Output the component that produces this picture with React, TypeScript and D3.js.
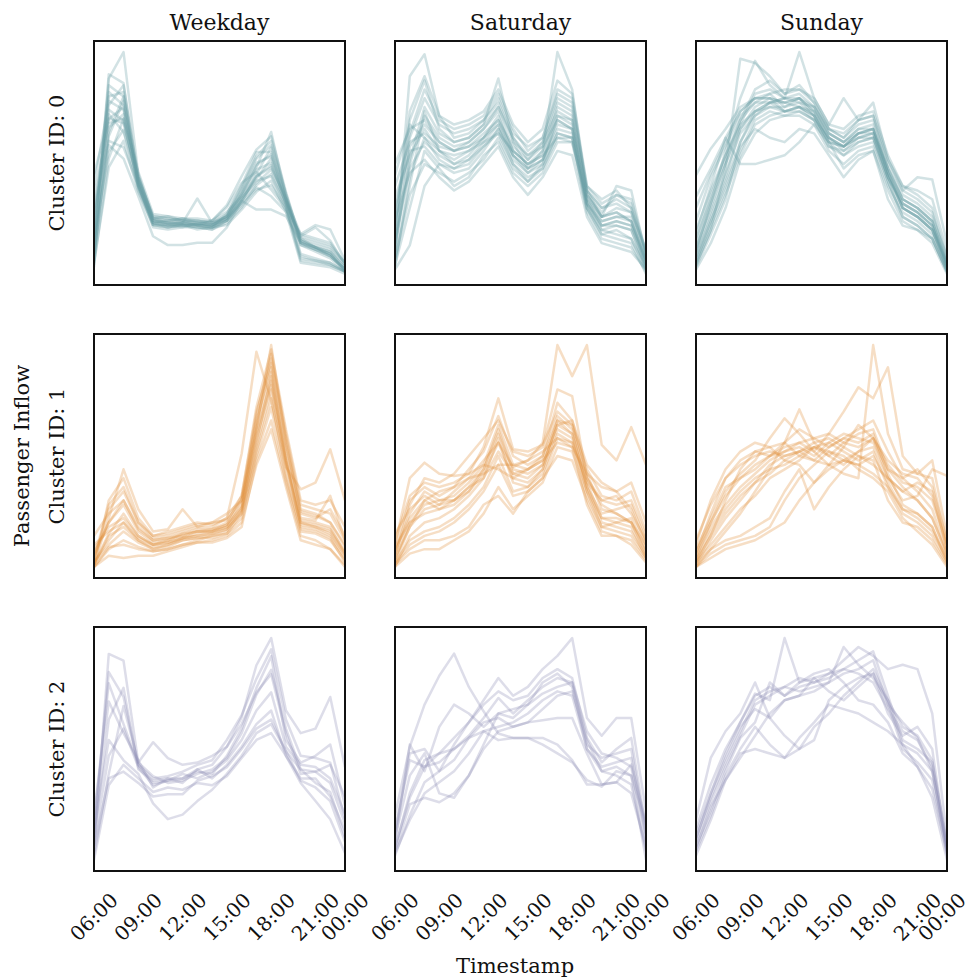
import React from 'react';
import * as d3 from 'd3';

const DAYS = ['Weekday', 'Saturday', 'Sunday'];
const CLUSTER_LABELS = ['Cluster ID: 0', 'Cluster ID: 1', 'Cluster ID: 2'];
const COLORS = ['#6a9fa6', '#e0913f', '#8f8db5'];
const TICK_POS = [0, 3, 6, 9, 12, 15, 17];
const TICK_LABELS = ['06:00', '09:00', '12:00', '15:00', '18:00', '21:00', '00:00'];
const Y_LABEL = 'Passenger Inflow';
const X_LABEL = 'Timestamp';

// Cluster 0 — hourly inflow (06:00 .. 23:00), normalised
const C0_WEEKDAY = [
  [3, 88, 100, 45, 25, 23, 24, 22, 22, 26, 36, 48, 64, 35, 13, 10, 7, 1],
  [10, 90, 86, 40, 23, 24, 25, 23, 22, 24, 32, 45, 57, 34, 14, 12, 9, 2],
  [18, 80, 82, 44, 26, 25, 24, 24, 23, 26, 38, 52, 58, 36, 16, 12, 10, 3],
  [25, 70, 75, 42, 24, 22, 23, 22, 21, 27, 40, 55, 55, 33, 15, 13, 11, 4],
  [8, 62, 78, 40, 22, 21, 22, 21, 20, 24, 34, 43, 52, 31, 8, 6, 5, 1],
  [35, 68, 70, 46, 27, 26, 25, 25, 24, 28, 35, 44, 48, 34, 18, 16, 14, 5],
  [15, 55, 65, 38, 21, 20, 21, 21, 20, 23, 30, 40, 45, 30, 6, 5, 4, 1],
  [5, 48, 60, 37, 22, 21, 22, 20, 21, 22, 29, 37, 42, 28, 5, 4, 3, 0],
  [40, 78, 74, 43, 25, 24, 23, 34, 23, 25, 33, 41, 47, 32, 17, 21, 15, 4],
  [20, 85, 80, 41, 24, 23, 22, 22, 24, 31, 44, 56, 62, 37, 15, 12, 8, 2],
  [12, 58, 52, 35, 17, 13, 13, 14, 14, 21, 33, 29, 29, 26, 14, 11, 8, 2],
  [28, 74, 69, 40, 23, 22, 21, 23, 22, 26, 37, 50, 53, 33, 16, 14, 12, 5],
  [6, 66, 72, 39, 22, 22, 23, 22, 21, 25, 35, 47, 50, 33, 13, 11, 9, 1],
  [22, 72, 64, 42, 25, 26, 24, 23, 24, 30, 41, 46, 38, 29, 18, 22, 20, 6],
  [14, 82, 76, 41, 23, 21, 22, 21, 21, 24, 31, 38, 40, 30, 7, 6, 4, 1],
  [30, 60, 57, 40, 24, 23, 23, 22, 22, 25, 32, 39, 35, 28, 14, 12, 10, 3],
  [9, 76, 85, 44, 25, 24, 25, 24, 23, 27, 39, 53, 60, 36, 14, 11, 8, 2],
  [45, 70, 68, 43, 26, 25, 24, 24, 23, 26, 34, 42, 44, 31, 17, 15, 13, 5],
  [4, 52, 70, 39, 23, 22, 22, 22, 21, 24, 33, 44, 49, 32, 9, 7, 5, 1],
  [16, 64, 80, 42, 24, 23, 23, 23, 22, 25, 36, 49, 54, 34, 15, 12, 9, 2],
];
const C0_SATURDAY = [
  [8, 90, 100, 72, 62, 64, 70, 78, 62, 52, 60, 80, 76, 38, 26, 40, 38, 8],
  [20, 70, 88, 66, 60, 62, 68, 89, 60, 48, 56, 101, 84, 36, 28, 36, 34, 10],
  [2, 13, 40, 50, 46, 48, 56, 66, 50, 42, 50, 72, 70, 32, 20, 22, 20, 2],
  [40, 60, 64, 58, 56, 58, 64, 70, 58, 52, 58, 70, 66, 34, 22, 24, 22, 6],
  [12, 50, 72, 62, 58, 60, 66, 74, 56, 50, 54, 76, 72, 36, 26, 28, 24, 4],
  [30, 56, 58, 50, 48, 52, 60, 68, 52, 46, 50, 64, 62, 30, 18, 20, 16, 3],
  [6, 40, 74, 56, 50, 54, 62, 72, 54, 48, 52, 68, 66, 32, 24, 26, 26, 5],
  [50, 66, 70, 60, 56, 60, 66, 76, 60, 54, 60, 74, 70, 38, 30, 32, 28, 11],
  [4, 30, 56, 48, 40, 44, 54, 60, 46, 40, 46, 60, 60, 28, 16, 14, 12, 1],
  [18, 62, 80, 68, 64, 66, 70, 80, 64, 58, 62, 82, 78, 40, 34, 38, 30, 8],
  [25, 46, 52, 44, 38, 42, 50, 58, 44, 36, 44, 56, 54, 26, 14, 12, 10, 2],
  [10, 58, 68, 60, 56, 58, 62, 70, 56, 50, 56, 72, 68, 34, 24, 26, 24, 6],
  [35, 54, 66, 56, 52, 56, 62, 68, 54, 46, 52, 66, 64, 32, 22, 24, 22, 4],
  [14, 52, 76, 64, 60, 62, 68, 76, 62, 54, 58, 78, 74, 36, 26, 30, 28, 7],
  [3, 44, 62, 52, 48, 50, 58, 64, 50, 44, 48, 62, 62, 30, 20, 18, 16, 2],
  [28, 64, 84, 70, 66, 68, 72, 82, 66, 56, 62, 84, 80, 38, 30, 34, 30, 9],
  [16, 48, 60, 54, 50, 52, 58, 66, 54, 48, 52, 70, 66, 32, 22, 22, 20, 3],
  [45, 68, 62, 56, 54, 56, 60, 64, 56, 50, 54, 62, 60, 34, 26, 28, 24, 6],
  [7, 36, 50, 46, 42, 46, 52, 62, 48, 42, 48, 64, 62, 30, 18, 16, 14, 0],
  [22, 74, 90, 72, 68, 70, 74, 84, 68, 60, 66, 88, 82, 40, 32, 36, 32, 10],
];
const C0_SUNDAY = [
  [4, 20, 48, 98, 96, 90, 82, 84, 78, 66, 62, 70, 72, 48, 34, 30, 24, 4],
  [10, 32, 56, 80, 97, 86, 80, 101, 80, 68, 80, 70, 78, 52, 38, 44, 43, 14],
  [18, 40, 62, 74, 80, 82, 76, 80, 72, 60, 58, 64, 66, 46, 30, 26, 20, 5],
  [2, 14, 30, 52, 64, 70, 72, 74, 70, 58, 54, 60, 62, 42, 26, 22, 16, 1],
  [45, 57, 66, 76, 80, 80, 74, 76, 70, 62, 58, 62, 64, 48, 36, 32, 26, 8],
  [8, 26, 44, 66, 76, 80, 78, 80, 74, 64, 60, 66, 68, 46, 32, 28, 22, 3],
  [14, 36, 54, 70, 84, 88, 82, 86, 78, 66, 62, 68, 70, 50, 38, 34, 28, 6],
  [6, 22, 38, 56, 70, 74, 72, 72, 68, 56, 50, 56, 58, 40, 28, 24, 18, 2],
  [24, 44, 58, 72, 78, 78, 80, 78, 76, 64, 60, 66, 66, 48, 34, 30, 24, 5],
  [3, 18, 34, 60, 74, 78, 74, 76, 72, 62, 56, 62, 64, 44, 30, 26, 20, 2],
  [12, 30, 50, 68, 82, 84, 80, 82, 76, 66, 64, 70, 72, 52, 40, 38, 34, 10],
  [30, 46, 60, 74, 80, 80, 78, 76, 74, 62, 58, 62, 62, 44, 32, 28, 22, 4],
  [5, 24, 40, 58, 66, 62, 60, 66, 64, 54, 44, 52, 56, 38, 24, 20, 16, 1],
  [16, 34, 52, 70, 78, 82, 84, 84, 80, 68, 66, 72, 74, 54, 40, 36, 30, 7],
  [9, 28, 46, 64, 72, 76, 76, 78, 72, 60, 58, 64, 64, 44, 30, 26, 20, 3],
  [20, 38, 54, 68, 74, 76, 74, 74, 70, 58, 56, 60, 62, 44, 32, 28, 22, 5],
  [7, 24, 42, 60, 72, 78, 80, 80, 76, 64, 60, 64, 66, 46, 30, 26, 20, 3],
  [35, 48, 62, 50, 50, 52, 54, 60, 68, 60, 48, 54, 56, 34, 22, 20, 14, 0],
  [11, 32, 50, 66, 74, 78, 78, 80, 74, 62, 58, 64, 66, 46, 34, 30, 24, 4],
  [4, 20, 36, 54, 68, 72, 74, 76, 72, 60, 54, 58, 60, 42, 26, 22, 16, 1],
];

// Cluster 1
const C1_WEEKDAY = [
  [1, 22, 44, 26, 16, 17, 26, 18, 20, 24, 30, 62, 100, 56, 24, 22, 26, 14],
  [0, 30, 40, 22, 14, 16, 18, 20, 19, 22, 32, 70, 92, 55, 26, 24, 20, 10],
  [3, 26, 34, 20, 13, 14, 16, 18, 18, 22, 51, 97, 75, 45, 35, 38, 53, 30],
  [2, 12, 20, 12, 8, 9, 12, 13, 14, 16, 26, 62, 88, 48, 18, 17, 14, 4],
  [5, 20, 28, 16, 11, 12, 15, 16, 16, 19, 30, 66, 90, 52, 22, 21, 32, 12],
  [0, 8, 12, 9, 7, 8, 10, 12, 14, 15, 22, 52, 76, 42, 16, 15, 12, 3],
  [14, 24, 30, 18, 12, 13, 15, 17, 17, 19, 27, 58, 82, 47, 20, 19, 17, 7],
  [1, 15, 24, 14, 10, 11, 13, 14, 15, 17, 25, 56, 86, 50, 21, 20, 18, 6],
  [2, 10, 16, 11, 8, 10, 12, 13, 13, 15, 24, 50, 72, 40, 17, 16, 13, 2],
  [8, 18, 22, 14, 10, 11, 13, 15, 16, 18, 28, 64, 94, 58, 25, 23, 20, 9],
  [0, 5, 4, 5, 5, 7, 9, 11, 11, 13, 18, 48, 66, 38, 14, 12, 8, 0],
  [4, 28, 36, 20, 14, 15, 17, 19, 20, 21, 30, 68, 96, 60, 28, 26, 24, 12],
  [10, 16, 20, 13, 10, 12, 14, 16, 16, 18, 26, 60, 84, 48, 20, 18, 15, 5],
  [1, 14, 18, 12, 9, 10, 13, 14, 15, 17, 24, 54, 80, 46, 19, 18, 16, 6],
  [6, 20, 30, 17, 12, 13, 14, 16, 17, 20, 32, 72, 98, 62, 30, 28, 30, 18],
  [0, 9, 10, 8, 7, 8, 10, 11, 12, 14, 20, 46, 62, 36, 12, 10, 8, 1],
];
const C1_SATURDAY = [
  [2, 18, 30, 34, 36, 40, 48, 56, 45, 48, 56, 100, 86, 100, 55, 48, 63, 46],
  [5, 28, 40, 38, 42, 50, 58, 66, 52, 50, 54, 80, 77, 40, 28, 24, 20, 10],
  [10, 40, 47, 42, 41, 42, 54, 76, 53, 52, 55, 70, 64, 38, 22, 20, 22, 8],
  [0, 14, 20, 22, 26, 32, 40, 58, 38, 36, 44, 62, 58, 34, 18, 16, 14, 4],
  [6, 24, 34, 30, 32, 38, 46, 64, 46, 44, 48, 66, 60, 36, 24, 26, 28, 12],
  [1, 8, 12, 12, 14, 18, 28, 32, 24, 34, 40, 50, 48, 30, 16, 14, 10, 2],
  [8, 30, 36, 32, 36, 44, 52, 68, 50, 46, 50, 68, 62, 40, 30, 28, 30, 14],
  [3, 20, 28, 30, 30, 36, 44, 60, 44, 42, 46, 64, 66, 42, 26, 24, 20, 6],
  [15, 26, 32, 28, 34, 40, 42, 46, 46, 48, 52, 58, 56, 38, 30, 32, 24, 12],
  [0, 6, 8, 8, 12, 16, 24, 36, 26, 32, 38, 54, 52, 32, 18, 20, 18, 4],
  [4, 18, 26, 28, 30, 34, 44, 62, 42, 40, 46, 64, 60, 36, 20, 18, 16, 5],
  [12, 32, 38, 36, 38, 42, 46, 44, 40, 44, 48, 56, 54, 42, 36, 34, 38, 20],
  [2, 12, 16, 18, 22, 28, 36, 50, 34, 36, 42, 60, 56, 34, 22, 22, 20, 7],
  [7, 22, 30, 26, 28, 34, 42, 56, 40, 38, 44, 66, 64, 44, 32, 30, 34, 16],
  [1, 10, 14, 16, 20, 26, 34, 46, 32, 34, 40, 58, 54, 28, 14, 14, 12, 3],
  [9, 20, 24, 26, 30, 36, 40, 52, 42, 44, 50, 74, 66, 46, 38, 34, 26, 10],
];
const C1_SUNDAY = [
  [2, 14, 30, 44, 52, 54, 56, 50, 48, 46, 42, 40, 100, 60, 44, 42, 40, 10],
  [4, 20, 34, 42, 48, 58, 67, 60, 52, 60, 70, 81, 76, 90, 50, 42, 48, 14],
  [0, 8, 16, 24, 34, 44, 56, 71, 56, 50, 46, 52, 58, 40, 30, 32, 44, 41],
  [6, 24, 40, 46, 50, 52, 50, 52, 54, 50, 56, 60, 62, 44, 36, 30, 22, 6],
  [1, 12, 22, 30, 38, 46, 50, 52, 48, 54, 58, 56, 60, 42, 28, 24, 18, 2],
  [10, 30, 44, 52, 56, 54, 48, 46, 38, 44, 48, 52, 54, 40, 34, 38, 34, 8],
  [3, 16, 26, 34, 40, 44, 46, 50, 54, 52, 48, 46, 50, 38, 26, 22, 16, 4],
  [0, 6, 10, 12, 14, 18, 30, 40, 46, 52, 50, 44, 40, 34, 22, 16, 10, 0],
  [8, 22, 36, 40, 44, 50, 54, 56, 52, 46, 54, 64, 58, 46, 38, 36, 30, 10],
  [2, 10, 18, 26, 32, 40, 44, 48, 54, 56, 52, 48, 52, 36, 24, 20, 14, 2],
  [12, 28, 40, 48, 52, 50, 52, 54, 50, 56, 60, 58, 56, 44, 40, 44, 36, 12],
  [1, 8, 12, 14, 18, 22, 34, 44, 26, 36, 44, 50, 48, 30, 20, 18, 12, 1],
  [5, 18, 28, 36, 42, 48, 52, 56, 58, 60, 56, 54, 58, 48, 42, 40, 32, 8],
  [0, 4, 8, 10, 12, 16, 20, 30, 38, 46, 48, 46, 42, 36, 26, 24, 18, 3],
  [7, 20, 32, 40, 46, 50, 56, 62, 58, 54, 58, 62, 66, 52, 40, 34, 26, 6],
  [3, 14, 24, 32, 38, 42, 48, 52, 56, 58, 54, 50, 46, 40, 34, 30, 22, 5],
];

// Cluster 2
const C2_WEEKDAY = [
  [6, 93, 90, 45, 39, 36, 37, 40, 42, 47, 58, 75, 86, 60, 42, 36, 32, 12],
  [20, 80, 62, 44, 36, 37, 38, 42, 44, 52, 65, 88, 100, 68, 58, 60, 74, 43],
  [12, 64, 78, 42, 37, 38, 38, 41, 40, 48, 60, 78, 92, 55, 45, 48, 53, 26],
  [4, 40, 70, 45, 54, 47, 44, 45, 48, 52, 62, 76, 84, 58, 40, 41, 36, 18],
  [16, 55, 46, 40, 27, 20, 22, 28, 33, 40, 48, 58, 62, 50, 37, 34, 28, 10],
  [10, 48, 60, 43, 35, 37, 40, 38, 41, 46, 55, 68, 76, 52, 44, 43, 38, 22],
  [22, 72, 58, 46, 34, 38, 36, 42, 38, 44, 52, 62, 68, 48, 38, 38, 30, 15],
  [2, 35, 44, 38, 32, 34, 33, 36, 35, 39, 47, 55, 58, 48, 36, 28, 20, 5],
  [14, 85, 74, 44, 38, 39, 41, 44, 46, 55, 66, 82, 95, 64, 48, 47, 45, 20],
  [8, 38, 41, 36, 30, 31, 31, 37, 39, 43, 51, 60, 64, 50, 42, 41, 44, 30],
];
const C2_SATURDAY = [
  [20, 51, 70, 83, 93, 78, 67, 57, 55, 55, 55, 52, 45, 34, 34, 35, 43, 17],
  [12, 48, 50, 40, 52, 62, 72, 82, 74, 78, 86, 92, 100, 64, 56, 64, 64, 22],
  [5, 30, 45, 48, 55, 62, 70, 76, 72, 74, 82, 86, 82, 55, 44, 50, 55, 14],
  [8, 52, 40, 60, 70, 66, 60, 66, 68, 70, 75, 78, 80, 58, 48, 46, 42, 8],
  [2, 20, 35, 40, 45, 55, 62, 64, 60, 62, 68, 74, 76, 54, 40, 42, 38, 0],
  [10, 38, 48, 30, 28, 38, 50, 58, 60, 62, 63, 64, 64, 48, 34, 35, 30, 6],
  [4, 25, 28, 26, 30, 38, 52, 66, 64, 70, 80, 84, 78, 50, 42, 44, 46, 10],
  [14, 45, 42, 44, 50, 55, 58, 54, 55, 55, 52, 48, 44, 36, 33, 40, 38, 16],
  [6, 28, 42, 48, 50, 56, 64, 73, 66, 72, 78, 82, 80, 52, 46, 48, 50, 12],
  [3, 18, 30, 35, 40, 48, 58, 60, 62, 66, 72, 76, 74, 50, 40, 38, 34, 4],
];
const C2_SUNDAY = [
  [12, 30, 48, 62, 75, 72, 100, 80, 82, 76, 72, 78, 84, 70, 62, 55, 40, 5],
  [6, 22, 40, 55, 62, 80, 74, 78, 80, 84, 90, 96, 92, 86, 88, 86, 66, 10],
  [18, 46, 58, 66, 80, 64, 56, 50, 54, 72, 78, 82, 84, 66, 56, 60, 50, 4],
  [4, 20, 38, 50, 60, 52, 46, 50, 60, 66, 74, 80, 86, 72, 52, 48, 40, 6],
  [10, 28, 44, 58, 72, 76, 78, 82, 80, 82, 86, 90, 94, 74, 54, 50, 44, 8],
  [2, 18, 36, 48, 50, 48, 46, 55, 62, 70, 68, 66, 62, 58, 52, 42, 28, 0],
  [8, 26, 42, 56, 70, 74, 78, 76, 78, 80, 84, 86, 90, 70, 50, 44, 36, 2],
  [14, 34, 50, 62, 74, 78, 74, 80, 84, 86, 80, 72, 70, 62, 48, 42, 32, 4],
  [5, 24, 36, 46, 56, 66, 72, 74, 76, 80, 96, 88, 82, 72, 60, 56, 45, 6],
  [9, 30, 46, 60, 68, 64, 72, 74, 82, 84, 86, 84, 80, 68, 58, 54, 42, 3],
];

const PANELS = [
  [C0_WEEKDAY, C0_SATURDAY, C0_SUNDAY],
  [C1_WEEKDAY, C1_SATURDAY, C1_SUNDAY],
  [C2_WEEKDAY, C2_SATURDAY, C2_SUNDAY],
];

const FONT = '"DejaVu Serif", serif';

export default function App() {
  const W = 973;
  const H = 979;
  const colX = [94, 395, 696];
  const rowY = [41, 334, 627];
  const pw = 251;
  const ph = 244;

  return (
    <svg
      width={W}
      height={H}
      style={{ position: 'absolute', left: 0, top: 0, display: 'block', background: '#fff' }}
      fontFamily={FONT}
    >
      <defs>
        {rowY.map((ry, r) =>
          colX.map((cx, c) => (
            <clipPath id={`clip-${r}-${c}`} key={`cp-${r}-${c}`}>
              <rect x={cx} y={ry} width={pw} height={ph} />
            </clipPath>
          ))
        )}
      </defs>
      {PANELS.map((row, r) =>
        row.map((lines, c) => {
          const x0 = colX[c];
          const y0 = rowY[r];
          const x = d3.scaleLinear().domain([0, 17]).range([x0, x0 + pw]);
          const all = lines.flat();
          const mn = d3.min(all) as number;
          const mx = d3.max(all) as number;
          const pad = (mx - mn) * 0.05;
          const y = d3.scaleLinear().domain([mn - pad, mx + pad]).range([y0 + ph, y0]);
          const line = d3
            .line<number>()
            .x((_, i) => x(i))
            .y((d) => y(d));
          return (
            <g key={`p-${r}-${c}`}>
              <g clipPath={`url(#clip-${r}-${c})`}>
                {lines.map((ln, k) => (
                  <path
                    key={k}
                    d={line(ln) || ''}
                    fill="none"
                    stroke={COLORS[r]}
                    strokeOpacity={0.3}
                    strokeWidth={2.5}
                    strokeLinejoin="round"
                  />
                ))}
              </g>
              <rect x={x0} y={y0} width={pw} height={ph} fill="none" stroke="#111" strokeWidth={2} />
              {r === 2 &&
                TICK_POS.map((tp, ti) => {
                  const tx = Math.min(x(tp), W - 31);
                  const ty = 917;
                  return (
                    <text
                      key={ti}
                      x={tx}
                      y={ty}
                      fontSize={20}
                      textAnchor="middle"
                      dominantBaseline="central"
                      transform={`rotate(-45 ${tx} ${ty})`}
                      fill="#111"
                    >
                      {TICK_LABELS[ti]}
                    </text>
                  );
                })}
            </g>
          );
        })
      )}
      {DAYS.map((d, c) => (
        <text key={d} x={colX[c] + pw / 2} y={30} fontSize={22} textAnchor="middle" fill="#111">
          {d}
        </text>
      ))}
      {CLUSTER_LABELS.map((lbl, r) => {
        const cy = rowY[r] + ph / 2;
        return (
          <text
            key={lbl}
            x={64}
            y={cy}
            fontSize={21}
            textAnchor="middle"
            transform={`rotate(-90 64 ${cy})`}
            fill="#111"
          >
            {lbl}
          </text>
        );
      })}
      <text
        x={29}
        y={rowY[1] + ph / 2}
        fontSize={21}
        textAnchor="middle"
        transform={`rotate(-90 29 ${rowY[1] + ph / 2})`}
        fill="#111"
      >
        {Y_LABEL}
      </text>
      <text x={515} y={973} fontSize={21} textAnchor="middle" fill="#111">
        {X_LABEL}
      </text>
    </svg>
  );
}
